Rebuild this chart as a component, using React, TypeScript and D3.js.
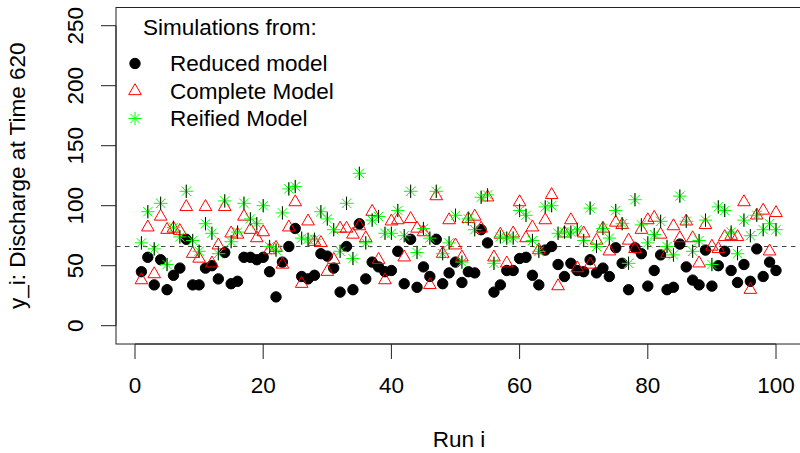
import React from 'react';
import * as d3 from 'd3';

// Run index 1..100
const runs = d3.range(1, 101);

// Simulations from the reduced model (black dots)
const reduced = [
  45, 57, 34, 55, 30, 42, 48, 72, 34, 34,
  48, 50, 39, 61, 35, 37, 57, 57, 55, 57,
  45, 24, 53, 66, 81, 41, 39, 42, 60, 58,
  48, 28, 66, 30, 85, 39, 53, 49, 45, 46,
  62, 35, 72, 32, 49, 41, 72, 35, 44, 53,
  36, 45, 44, 80, 69, 28, 34, 46, 46, 56,
  57, 42, 34, 63, 66, 51, 41, 52, 46, 45,
  55, 44, 48, 41, 65, 52, 30, 65, 60, 33,
  46, 59, 30, 32, 68, 49, 38, 34, 63, 33,
  50, 62, 46, 36, 51, 37, 64, 41, 53, 46,
];

// Simulations from the complete model (red triangles)
const complete = [
  38, 82, 43, 91, 80, 81, 79, 99, 60, 56,
  99, 52, 67, 99, 77, 76, 91, 80, 73, 78,
  63, 65, 51, 82, 103, 35, 87, 70, 69, 45,
  55, 81, 81, 76, 83, 73, 95, 55, 38, 87,
  88, 57, 89, 81, 78, 34, 108, 60, 88, 67,
  57, 89, 91, 81, 107, 57, 76, 52, 77, 103,
  73, 82, 63, 88, 109, 33, 77, 88, 48, 77,
  51, 71, 81, 62, 86, 84, 71, 64, 80, 88,
  90, 76, 60, 83, 73, 87, 73, 52, 84, 66,
  64, 74, 75, 74, 103, 30, 92, 96, 62, 94,
];

// Simulations from the reified model (green stars)
const reified = [
  69, 95, 64, 102, 51, 82, 74, 112, 71, 62,
  85, 77, 60, 104, 70, 78, 102, 89, 85, 100,
  66, 63, 94, 114, 116, 73, 72, 72, 95, 89,
  80, 62, 102, 56, 127, 69, 88, 91, 77, 77,
  96, 75, 112, 61, 81, 73, 112, 60, 69, 92,
  53, 89, 80, 107, 109, 52, 74, 73, 73, 96,
  92, 71, 62, 99, 100, 77, 78, 78, 80, 71,
  98, 66, 81, 73, 96, 85, 52, 105, 84, 69,
  76, 87, 66, 59, 108, 87, 62, 71, 88, 51,
  99, 96, 78, 60, 88, 75, 92, 80, 85, 80,
];

const xTicks = [0, 20, 40, 60, 80, 100];
const yTicks = [0, 50, 100, 150, 200, 250];
const refLevel = 66;

const legendTitle = 'Simulations from:';
const legendLabels = ['Reduced model', 'Complete Model', 'Reified Model'];

const FONT = '"Liberation Sans", Arial, Helvetica, sans-serif';
const FS = 22.5;

// R-style symbol geometry
const SYM = 4.69;
const triPath = (cx, cy) => {
  const r = 1.5551 * SYM;
  const hw = 1.3468 * SYM;
  const b = 0.7776 * SYM;
  return `M${cx},${cy - r}L${cx + hw},${cy + b}L${cx - hw},${cy + b}Z`;
};
const starPath = (cx, cy) => {
  const d = SYM;
  const p = Math.SQRT2 * SYM;
  return (
    `M${cx - d},${cy - d}L${cx + d},${cy + d}` +
    `M${cx - d},${cy + d}L${cx + d},${cy - d}` +
    `M${cx - p},${cy}L${cx + p},${cy}` +
    `M${cx},${cy - p}L${cx},${cy + p}`
  );
};

export default function App() {
  const x = d3.scaleLinear().domain([0, 100]).range([135, 776]);
  const y = d3.scaleLinear().domain([0, 250]).range([325.7, 25.7]);

  const left = 116;
  const top = 7.5;
  const bottom = 344;
  const right = x(103.96);

  return (
    <svg
      width={800}
      height={453}
      style={{ position: 'absolute', left: 0, top: 0, display: 'block', background: '#fff' }}
      fontFamily={FONT}
    >
      {/* box */}
      <rect x={left} y={top} width={right - left} height={bottom - top} fill="none" stroke="#222" strokeWidth={1} />

      {/* reference line */}
      <line x1={left} x2={right} y1={y(refLevel)} y2={y(refLevel)} stroke="#444" strokeWidth={1} strokeDasharray="4.5,4.5" />

      {/* x axis */}
      <line x1={x(0)} x2={x(100)} y1={bottom} y2={bottom} stroke="#222" />
      {xTicks.map((t) => (
        <g key={'xt' + t}>
          <line x1={x(t)} x2={x(t)} y1={bottom} y2={bottom + 15} stroke="#222" />
          <text x={x(t)} y={393} fontSize={FS} textAnchor="middle">{t}</text>
        </g>
      ))}
      <text x={459} y={447} fontSize={FS} textAnchor="middle">Run i</text>

      {/* y axis */}
      <line x1={left} x2={left} y1={y(0)} y2={y(250)} stroke="#222" />
      {yTicks.map((t) => (
        <g key={'yt' + t}>
          <line x1={left - 15} x2={left} y1={y(t)} y2={y(t)} stroke="#222" />
          <text transform={`translate(83,${y(t)}) rotate(-90)`} fontSize={FS} textAnchor="middle">{t}</text>
        </g>
      ))}
      <text transform={`translate(25,${(top + bottom) / 2}) rotate(-90)`} fontSize={FS} textAnchor="middle">
        y_i: Discharge at Time 620
      </text>

      {/* reduced model */}
      {runs.map((r, i) => (
        <circle key={'b' + r} cx={x(r)} cy={y(reduced[i])} r={5.2} fill="#000" stroke="#000" />
      ))}
      {/* complete model */}
      {runs.map((r, i) => (
        <path key={'t' + r} d={triPath(x(r), y(complete[i]))} fill="none" stroke="#ff0000" strokeWidth={1} />
      ))}
      {/* reified model */}
      {runs.map((r, i) => (
        <g key={'s' + r}>
          <path d={starPath(x(r), y(reified[i]))} fill="none" stroke="#00ff00" strokeWidth={1} />
          <line x1={x(r)} x2={x(r)} y1={y(reified[i]) - 6.6} y2={y(reified[i]) + 6.6} stroke="#111" strokeWidth={1} />
        </g>
      ))}

      {/* legend */}
      <text x={143} y={35} fontSize={FS}>{legendTitle}</text>
      <circle cx={135} cy={63.5} r={5.2} fill="#000" stroke="#000" />
      <path d={triPath(135, 91)} fill="none" stroke="#ff0000" />
      <path d={starPath(135, 118.5)} fill="none" stroke="#00ff00" />
      {legendLabels.map((l, i) => (
        <text key={l} x={170} y={71 + i * 27.5} fontSize={FS}>{l}</text>
      ))}
    </svg>
  );
}
